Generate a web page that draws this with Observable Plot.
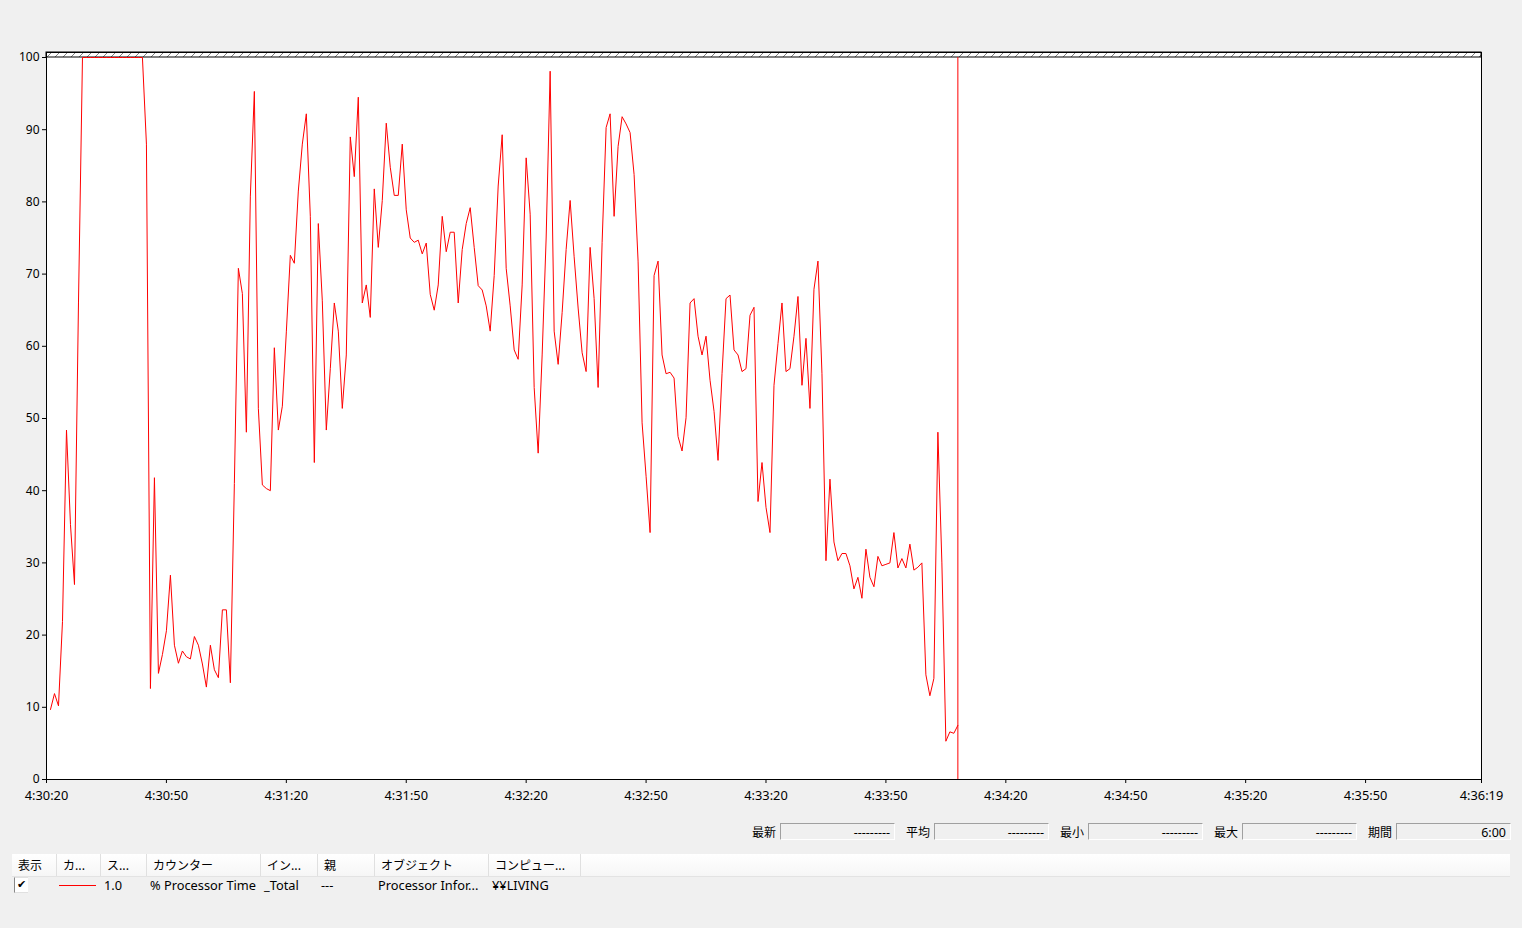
<!DOCTYPE html>
<html>
<head>
<meta charset="utf-8">
<script src="https://cdn.jsdelivr.net/npm/d3@7"></script>
<script src="https://cdn.jsdelivr.net/npm/@observablehq/plot@0.6"></script>
<style>
  html, body { margin: 0; padding: 0; }
  body {
    background: #f0f0f0; width: 1522px; height: 928px; overflow: hidden; position: relative;
    font-family: "Noto Sans", "Noto Sans CJK JP", sans-serif; font-size: 12px; color: #000;
  }
  #chart { position: absolute; left: 0; top: 0; }
  .lbl { position: absolute; line-height: 19px; height: 19px; font-family: "Noto Sans CJK JP", sans-serif; }
  .box {
    position: absolute; height: 17px; line-height: 17px; text-align: right; padding-right: 4px;
    box-sizing: border-box; border-top: 1px solid #a0a0a0; border-left: 1px solid #a0a0a0;
    border-right: 1px solid #ffffff; border-bottom: 1px solid #ffffff; background: #f0f0f0;
    font-size: 12.5px;
  }
  #header {
    position: absolute; left: 12px; top: 854px; width: 1498px; height: 22px;
    background: linear-gradient(#ffffff, #f6f6f6); border-bottom: 1px solid #e3e3e3;
  }
  .hcell {
    position: absolute; top: 0; height: 22px; line-height: 22px; box-sizing: border-box;
    padding-left: 6px; border-right: 1px solid #e0e0e0; white-space: nowrap; overflow: hidden;
    font-family: "Noto Sans CJK JP", sans-serif;
  }
  .rcell { position: absolute; top: 877px; height: 17px; line-height: 17px; white-space: nowrap; font-size: 12.8px; }
  #check {
    position: absolute; left: 14px; top: 877px; width: 13px; height: 14px; background: #fff;
    border-left: 1px solid #888; border-top: 1px solid #e0e0e0; border-bottom: 1px solid #e0e0e0;
    font-family: "DejaVu Sans", sans-serif; font-size: 11px; line-height: 14px; text-align: center;
  }
  #swatch { position: absolute; left: 59px; top: 885px; width: 37px; height: 1px; background: #ff0000; }
</style>
</head>
<body>
<div id="chart"></div>
<div id="stats"></div>
<div id="legend"></div>
<script>
// ---- data ----
const startClock = [4, 30, 20];           // 4:30:20
const spanSeconds = 359;                  // axis ends at 4:36:19
const tickOffsets = [0, 30, 60, 90, 120, 150, 180, 210, 240, 270, 300, 330, 359];
const yTicks = [0, 10, 20, 30, 40, 50, 60, 70, 80, 90, 100];
const processorTime = [
  9.7, 11.9, 10.2, 21.9, 48.4, 35.3, 27.0, 66, 100, 100,
  100, 100, 100, 100, 100, 100, 100, 100, 100, 100,
  100, 100, 100, 100, 88, 12.6, 41.8, 14.7, 17.3, 20.6,
  28.3, 18.6, 16.1, 17.8, 17.0, 16.7, 19.8, 18.6, 16.0, 12.8,
  18.6, 15.2, 14.1, 23.5, 23.5, 13.4, 41, 70.8, 67.3, 48.1,
  80.8, 95.3, 51.4, 40.8, 40.3, 40.0, 59.8, 48.4, 51.7, 62,
  72.6, 71.5, 81.5, 88, 92.2, 78, 43.9, 77.0, 66.3, 48.4,
  56.9, 66.0, 62.1, 51.4, 58.8, 89, 83.5, 94.5, 66, 68.5,
  64, 81.8, 73.7, 80.2, 90.9, 84.8, 80.9, 80.9, 88.0, 78.9,
  75.0, 74.4, 74.7, 72.8, 74.3, 67.2, 65.0, 68.5, 78.0, 73.1,
  75.8, 75.8, 66.0, 73.4, 77.0, 79.2, 73.7, 68.4, 67.8, 65.6,
  62.1, 69.8, 82.2, 89.3, 70.8, 65.6, 59.5, 58.2, 68.5, 86.1,
  78.3, 54.3, 45.2, 58.8, 75.0, 98.1, 62.1, 57.5, 64.7, 73.4,
  80.2, 72.4, 65.3, 59.1, 56.5, 73.7, 66.6, 54.3, 74.4, 90.3,
  92.2, 78.0, 87.7, 91.8, 90.8, 89.6, 83.8, 71.8, 49.4, 42.0,
  34.2, 69.8, 71.8, 58.8, 56.2, 56.4, 55.6, 47.5, 45.5, 50.1,
  66.0, 66.6, 61.4, 58.8, 61.4, 55.3, 51.0, 44.2, 56.2, 66.6,
  67.1, 59.5, 58.8, 56.5, 56.9, 64.3, 65.4, 38.5, 43.9, 37.7,
  34.2, 54.6, 60.4, 66.0, 56.5, 56.9, 61.4, 66.9, 54.6, 61.1,
  51.4, 67.9, 71.8, 56.2, 30.3, 41.6, 32.9, 30.3, 31.3, 31.3,
  29.6, 26.4, 28.0, 25.1, 31.9, 28.0, 26.7, 30.9, 29.6, 29.8,
  30.0, 34.2, 29.3, 30.6, 29.3, 32.6, 29.0, 29.4, 30.0, 14.5,
  11.6, 14, 48.1, 30, 5.3, 6.6, 6.4, 7.5
];
const statLabels = ["最新", "平均", "最小", "最大", "期間"];
const statValues = ["---------", "---------", "---------", "---------", "6:00"];
const legendHeaders = ["表示", "カ...", "ス...", "カウンター", "イン...", "親", "オブジェクト", "コンピュー..."];
const legendRow = ["", "", "1.0", "% Processor Time", "_Total", "---", "Processor Infor...", "¥¥LIVING"];

// ---- build ----
const t0 = new Date(2000, 0, 1, startClock[0], startClock[1], startClock[2]);
const at = s => new Date(t0.getTime() + s * 1000);
const tEnd = at(spanSeconds);
const samples = processorTime.map((v, i) => ({time: at(i + 1), value: v}));
const lastTime = samples[samples.length - 1].time;
const tickDates = tickOffsets.map(at);
const band = [{start: t0, end: tEnd}];
const bandTop = 100 + 5 / 7.22;

const svg = Plot.plot({
  width: 1522,
  height: 810,
  marginLeft: 46,
  marginRight: 41,
  marginTop: 52,
  marginBottom: 31,
  style: {fontFamily: '"Noto Sans", sans-serif', fontSize: "12px", background: "transparent", color: "#000"},
  x: {type: "time", domain: [t0, tEnd]},
  y: {domain: [0, bandTop]},
  marks: [
    Plot.frame({fill: "#ffffff", stroke: "none"}),
    Plot.rect(band, {x1: "start", x2: "end", y1: 100, y2: bandTop, fill: "url(#hatch)", stroke: "#000", strokeWidth: 1}),
    Plot.line(samples, {x: "time", y: "value", stroke: "#ff0000", strokeWidth: 1}),
    Plot.ruleX([lastTime], {y1: 0, y2: 100, stroke: "#ff0000", strokeWidth: 1}),
    Plot.frame({stroke: "#000", strokeWidth: 1}),
    Plot.axisY({ticks: yTicks, tickSize: 4, tickPadding: 3, label: null, tickFormat: d => String(d)}),
    Plot.axisX({ticks: tickDates, tickSize: 4, tickPadding: 7, label: null, fontSize: 12.8,
                tickFormat: d3.timeFormat("%-H:%M:%S")})
  ]
});
const defs = d3.select(svg).insert("defs", ":first-child");
const pat = defs.append("pattern").attr("id", "hatch").attr("patternUnits", "userSpaceOnUse")
  .attr("width", 8).attr("height", 8);
pat.append("rect").attr("width", 8).attr("height", 8).attr("fill", "#ffffff");
pat.append("line").attr("x1", 0).attr("y1", 8).attr("x2", 8).attr("y2", 0)
  .attr("stroke", "#808080").attr("stroke-width", 1);
document.getElementById("chart").appendChild(svg);

// ---- statistics boxes ----
const stats = document.getElementById("stats");
statLabels.forEach((lab, i) => {
  const left = 752 + i * 154;
  const l = document.createElement("div");
  l.className = "lbl"; l.style.left = left + "px"; l.style.top = "822px"; l.textContent = lab;
  stats.appendChild(l);
  const b = document.createElement("div");
  b.className = "box"; b.style.left = (left + 28) + "px"; b.style.top = "823px"; b.style.width = "115px";
  b.textContent = statValues[i];
  stats.appendChild(b);
});

// ---- legend table ----
const colEdges = [12, 57, 101, 147, 261, 318, 375, 489, 581];
const legend = document.getElementById("legend");
const header = document.createElement("div");
header.id = "header";
legend.appendChild(header);
legendHeaders.forEach((h, i) => {
  const c = document.createElement("div");
  c.className = "hcell";
  c.style.left = (colEdges[i] - 12) + "px";
  c.style.width = (colEdges[i + 1] - colEdges[i]) + "px";
  c.textContent = h;
  header.appendChild(c);
});
const check = document.createElement("div");
check.id = "check"; check.textContent = "✔";
legend.appendChild(check);
const sw = document.createElement("div");
sw.id = "swatch";
legend.appendChild(sw);
legendRow.forEach((txt, i) => {
  if (!txt) return;
  const c = document.createElement("div");
  c.className = "rcell";
  c.style.left = (colEdges[i] + 3) + "px";
  c.textContent = txt;
  legend.appendChild(c);
});
</script>
</body>
</html>
